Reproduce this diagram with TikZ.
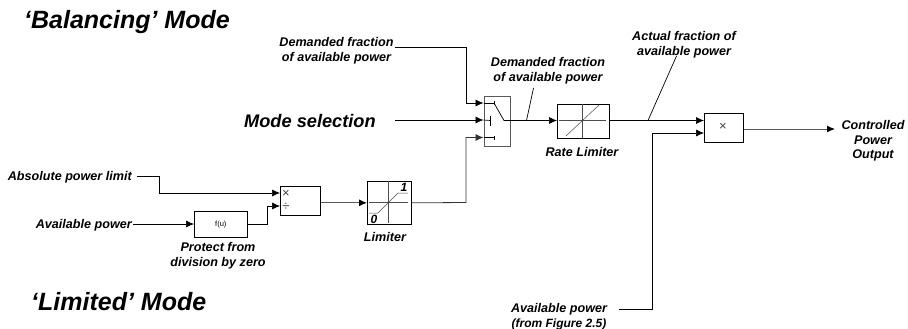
\documentclass[tikz,border=0pt]{standalone}
\usepackage{fontspec}
\setmainfont{Liberation Sans}
\usetikzlibrary{arrows.meta}
\definecolor{boxgray}{gray}{0.35}
\tikzset{
  x=1pt,y=-1pt,
  block/.style={draw=black,line width=0.7pt,fill=white,inner sep=0pt,anchor=north west},
  lab/.style={font=\fontsize{12.6}{14.7}\selectfont\bfseries\itshape,align=center,inner sep=0pt},
  big/.style={font=\fontsize{25}{28}\selectfont\bfseries\itshape,inner sep=0pt,anchor=base west},
  mid/.style={font=\fontsize{18.2}{21}\selectfont\bfseries\itshape,inner sep=0pt,anchor=west},
  sig/.style={draw=black,line width=0.7pt,-{Latex[length=8pt,width=7pt]}},
  graysig/.style={sig,draw=black!65,line width=1pt,arrows={-{Latex[length=8pt,width=7pt,black]}}},
  wire/.style={draw=black,line width=0.7pt},
  glyph/.style={draw=black!70,line width=0.5pt},
  tag/.style={font=\fontsize{12}{12}\selectfont\bfseries\itshape,inner sep=0pt},
  oper/.style={font=\fontsize{13}{13}\selectfont,text=black!75,inner sep=0pt}
}
\begin{document}
\begin{tikzpicture}
\useasboundingbox (0,0) rectangle (908,329);
\node[block,draw=boxgray,minimum width=26.5pt,minimum height=50pt] (sw) at (483.5,96) {};
\node[block,minimum width=52pt,minimum height=34pt] (rl) at (557,104) {};
\node[block,minimum width=39pt,minimum height=29pt] (prod) at (704,113) {};
\node[block,minimum width=44pt,minimum height=43pt] (lim) at (367,181) {};
\node[block,minimum width=40pt,minimum height=29pt] (div) at (280,186) {};
\node[block,minimum width=53pt,minimum height=26pt] (fu) at (194,211) {};
\node[font=\fontsize{7.5}{8}\selectfont,inner sep=0pt] at (fu.center) {f(u)};
\node[oper] at (723,127) {×};
\node[oper] at (286,193.5) {×};
\node[oper] at (286,206.5) {÷};
% text
\node[big] (tb) at (24,28.5) {‘Balancing’ Mode};
\node[big] (tl) at (31,310) {‘Limited’ Mode};
\node[mid] (ms) at (244,121) {Mode selection};
\node[lab] (dt) at (336.5,50.5) {Demanded fraction\\of available power};
\node[lab] (dm) at (548,71) {Demanded fraction\\of available power};
\node[lab] (af) at (684,45) {Actual fraction of\\available power};
\node[lab,anchor=east] (ab) at (132,177.5) {Absolute power limit};
\node[lab,anchor=east] (av) at (132,225) {Available power};
\node[lab] (pr) at (218,255.5) {Protect from\\division by zero};
\node[lab] (lm) at (385,237) {Limiter};
\node[lab] (rt) at (582,152) {Rate Limiter};
\node[lab] (cp) at (873,141) {Controlled\\Power\\Output};
\node[lab] (ap) at (559,316.5) {Available power\\{\fontsize{12}{14.7}\selectfont (from Figure 2.5)}};
% free ends of connectors
\coordinate (dtend) at (395,47);
\coordinate (msend) at (395,120);
\coordinate (abend) at (137,176);
\coordinate (avend) at (133,224);
\coordinate (apend) at (619,309);
\coordinate (cpend) at (835,129);
\coordinate (swin1) at (483.5,103);
\coordinate (swin2) at (483.5,120);
\coordinate (swin3) at (483.5,137.5);
\coordinate (pin1) at (704,120);
\coordinate (pin2) at (704,133);
\coordinate (dvin1) at (280,193);
\coordinate (dvin2) at (280,206);
\coordinate (swout) at (510,120.5);
\coordinate (dmfoot) at (526.5,120.5);
\coordinate (dmtop) at (533.5,88);
\coordinate (affoot) at (648,120.5);
\coordinate (aftop) at (676.5,56);
% connectors
\draw[sig] (dtend) -| (466,103) -- (swin1);
\draw[sig] (msend) -- (swin2);
\draw[sig,draw=black!80,line width=0.8pt] (lim.east) -- (466,202.5) -- (466,137.5) -- (swin3);
\draw[sig] (swout) -- (rl.west |- swout);
\draw[sig] (rl.east |- swout) -- (pin1 |- swout);
\draw[sig] (apend) -| (652,133) -- (pin2);
\draw[graysig] (prod.east |- cpend) -- (cpend);
\draw[sig] (abend) -| (159,193) -- (dvin1);
\draw[sig] (avend) -- (fu.west |- avend);
\draw[sig] (fu.east |- avend) -- (267,224) -- (267,206) -- (dvin2);
\draw[graysig] (div.east |- lim.west) -- (lim.west);
% leaders
\draw[wire] (dmfoot) -- (dmtop);
\draw[wire] (affoot) -- (aftop);
% switch glyph
\draw[wire] (494,103) -- (504,120.5) -- (swout);
\draw[wire] (swin2) -- (490.7,120.5);
\draw[wire] (490.7,115.5) -- (490.7,126);
\draw[wire] (swin1) -- (494,103);
\draw[wire] (494,101) -- (494,105);
\draw[wire] (swin3) -- (494,137.5);
\draw[wire] (494,135.5) -- (494,139.5);
% rate limiter glyph
\draw[glyph] (559,120.5) -- (606,120.5);
\draw[glyph] (582.7,104) -- (582.7,138);
\draw[glyph] (566,136) -- (599,105);
% limiter glyph
\draw[glyph,line width=0.8pt] (369,202.5) -- (408,202.5);
\draw[glyph,line width=0.8pt] (388,181) -- (388,223);
\draw[glyph] (369,213) -- (378,213) -- (398,193) -- (408,193);
\node[tag] at (404,187) {1};
\node[tag] at (374,219) {0};
\end{tikzpicture}
\end{document}
